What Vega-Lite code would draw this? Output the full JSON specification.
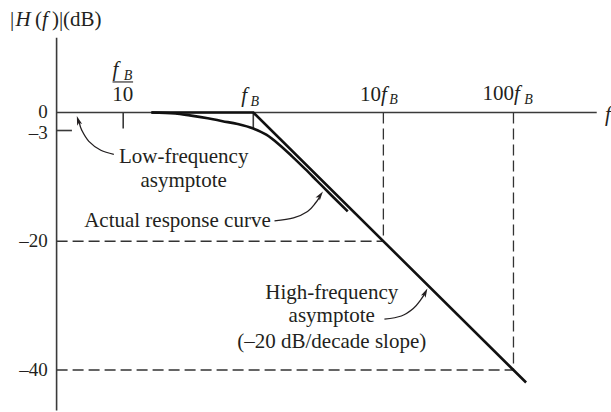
{
  "$schema": "https://vega.github.io/schema/vega-lite/v6.json",
  "width": 611,
  "height": 412,
  "autosize": {"type": "fit", "contains": "padding"},
  "padding": 0,
  "background": "white",
  "config": {"view": {"stroke": null}},
  "datasets": {
    "solid": [
      {"x": -1.512, "x2": -1.512, "y": 11.59, "y2": -46.3},
      {"x": -1.512, "x2": 2.64, "y": 0, "y2": 0},
      {"x": -1, "x2": -1, "y": 0, "y2": -2.47},
      {"x": -1.512, "x2": -1.394, "y": -2.8, "y2": -2.8},
      {"x": 0, "x2": 0, "y": 0, "y2": -2.5}
    ],
    "bar": [
      {"x": -1.082, "x2": -0.924, "y": 4.74, "y2": 4.74}
    ],
    "dashed": [
      {"x": 1, "x2": 1, "y": 0, "y2": -20},
      {"x": 2, "x2": 2, "y": 0, "y2": -40},
      {"x": -1.512, "x2": 1, "y": -20, "y2": -20},
      {"x": -1.512, "x2": 2, "y": -40, "y2": -40}
    ],
    "asymptote": [
      {"i": 0, "x": -0.783, "y": 0},
      {"i": 1, "x": 0, "y": 0},
      {"i": 2, "x": 2.097, "y": -41.94}
    ],
    "curve": [
      {"x": -0.783, "y": 0},
      {"x": -0.6, "y": -0.15},
      {"x": -0.489, "y": -0.45},
      {"x": -0.35, "y": -0.9},
      {"x": -0.236, "y": -1.35},
      {"x": -0.12, "y": -1.8},
      {"x": 0.0, "y": -2.5},
      {"x": 0.1, "y": -3.45},
      {"x": 0.2, "y": -5.0},
      {"x": 0.3, "y": -6.85},
      {"x": 0.4, "y": -8.8},
      {"x": 0.484, "y": -10.5},
      {"x": 0.6, "y": -12.85},
      {"x": 0.726, "y": -15.35}
    ],
    "arrows": [
      {"g": "low", "i": 0, "x": -1.072, "y": -6.49},
      {"g": "low", "i": 1, "x": -1.172, "y": -5.87},
      {"g": "low", "i": 2, "x": -1.264, "y": -4.48},
      {"g": "low", "i": 3, "x": -1.318, "y": -2.78},
      {"g": "low", "i": 4, "x": -1.338, "y": -1.55},
      {"g": "act", "i": 0, "x": 0.163, "y": -16.85},
      {"g": "act", "i": 1, "x": 0.309, "y": -16.38},
      {"g": "act", "i": 2, "x": 0.417, "y": -15.38},
      {"g": "act", "i": 3, "x": 0.478, "y": -14.06},
      {"g": "act", "i": 4, "x": 0.512, "y": -13.06},
      {"g": "high", "i": 0, "x": 1.008, "y": -32.1},
      {"g": "high", "i": 1, "x": 1.138, "y": -31.61},
      {"g": "high", "i": 2, "x": 1.23, "y": -30.45},
      {"g": "high", "i": 3, "x": 1.288, "y": -29.06},
      {"g": "high", "i": 4, "x": 1.318, "y": -28.13}
    ],
    "head1": [{"x": -1.344, "y": -1.34}],
    "head2": [{"x": 0.512, "y": -12.95}],
    "head3": [{"x": 1.32, "y": -28.05}],
    "yLabels": [
      {"t": "0", "x": -1.579, "y": -0.85},
      {"t": "–3", "x": -1.579, "y": -4.05},
      {"t": "–20", "x": -1.579, "y": -20.91},
      {"t": "–40", "x": -1.579, "y": -41.0}
    ],
    "upR": [
      {"t": "10", "x": 0.982, "y": 1.75},
      {"t": "100", "x": 2.005, "y": 2.01}
    ],
    "upC": [
      {"t": "10", "x": -1.003, "y": 1.75},
      {"t": "Low-frequency", "x": -0.535, "y": -7.88},
      {"t": "asymptote", "x": -0.535, "y": -11.59},
      {"t": "Actual response curve", "x": -0.583, "y": -17.77},
      {"t": "High-frequency", "x": 0.603, "y": -28.9},
      {"t": "asymptote", "x": 0.603, "y": -32.61},
      {"t": "(–20 dB/decade slope)", "x": 0.603, "y": -36.63}
    ],
    "upL": [
      {"t": "|", "x": -1.87, "y": 13.45},
      {"t": "(", "x": -1.678, "y": 13.45},
      {"t": ")|(dB)", "x": -1.548, "y": 13.45}
    ],
    "itL": [
      {"t": "H", "x": -1.828, "y": 13.45},
      {"t": "f", "x": -1.625, "y": 13.45},
      {"t": "f", "x": -1.082, "y": 5.72},
      {"t": "f", "x": -0.092, "y": 1.7},
      {"t": "f", "x": 0.982, "y": 1.75},
      {"t": "f", "x": 2.005, "y": 2.01},
      {"t": "f", "x": 2.704, "y": -1.39}
    ],
    "subL": [
      {"t": "B", "x": -0.995, "y": 5.1},
      {"t": "B", "x": -0.021, "y": 1.08},
      {"t": "B", "x": 1.046, "y": 1.24},
      {"t": "B", "x": 2.082, "y": 1.39}
    ]
  },
  "encoding": {
    "x": {"field": "x", "type": "quantitative", "scale": {"domain": [-1.947, 2.742], "nice": false, "zero": false}, "axis": null},
    "y": {"field": "y", "type": "quantitative", "scale": {"domain": [-46.21, 17.47], "nice": false, "zero": false}, "axis": null}
  },
  "layer": [
    {
      "data": {"name": "dashed"},
      "mark": {"type": "rule", "color": "#333333", "strokeWidth": 1.3, "strokeDash": [11, 5]},
      "encoding": {"x2": {"field": "x2"}, "y2": {"field": "y2"}}
    },
    {
      "data": {"name": "solid"},
      "mark": {"type": "rule", "color": "#3a3a3a", "strokeWidth": 1.6},
      "encoding": {"x2": {"field": "x2"}, "y2": {"field": "y2"}}
    },
    {
      "data": {"name": "bar"},
      "mark": {"type": "rule", "color": "#231f20", "strokeWidth": 1.1},
      "encoding": {"x2": {"field": "x2"}, "y2": {"field": "y2"}}
    },
    {
      "data": {"name": "asymptote"},
      "mark": {"type": "line", "color": "#111111", "strokeWidth": 2.6},
      "encoding": {"order": {"field": "i", "type": "quantitative"}}
    },
    {
      "data": {"name": "curve"},
      "mark": {"type": "line", "color": "#111111", "strokeWidth": 2.6, "interpolate": "monotone"},
      "encoding": {}
    },
    {
      "data": {"name": "arrows"},
      "mark": {"type": "line", "color": "#231f20", "strokeWidth": 1.3, "interpolate": "cardinal"},
      "encoding": {"detail": {"field": "g"}, "order": {"field": "i", "type": "quantitative"}}
    },
    {
      "data": {"name": "head1"},
      "mark": {"type": "point", "shape": "M0,-1L0.5,0.75L0,0.35L-0.5,0.75Z", "filled": true, "color": "#231f20", "opacity": 1, "size": 110, "angle": 342}
    },
    {
      "data": {"name": "head2"},
      "mark": {"type": "point", "shape": "M0,-1L0.5,0.75L0,0.35L-0.5,0.75Z", "filled": true, "color": "#231f20", "opacity": 1, "size": 110, "angle": 35}
    },
    {
      "data": {"name": "head3"},
      "mark": {"type": "point", "shape": "M0,-1L0.5,0.75L0,0.35L-0.5,0.75Z", "filled": true, "color": "#231f20", "opacity": 1, "size": 110, "angle": 27}
    },
    {
      "data": {"name": "yLabels"},
      "mark": {"type": "text", "font": "Liberation Serif", "fontSize": 19, "align": "right", "baseline": "alphabetic", "color": "#231f20"},
      "encoding": {"text": {"field": "t"}}
    },
    {
      "data": {"name": "upR"},
      "mark": {"type": "text", "font": "Liberation Serif", "fontSize": 21, "align": "right", "baseline": "alphabetic", "color": "#231f20"},
      "encoding": {"text": {"field": "t"}}
    },
    {
      "data": {"name": "upC"},
      "mark": {"type": "text", "font": "Liberation Serif", "fontSize": 21, "align": "center", "baseline": "alphabetic", "color": "#231f20"},
      "encoding": {"text": {"field": "t"}}
    },
    {
      "data": {"name": "upL"},
      "mark": {"type": "text", "font": "Liberation Serif", "fontSize": 21, "align": "left", "baseline": "alphabetic", "color": "#231f20"},
      "encoding": {"text": {"field": "t"}}
    },
    {
      "data": {"name": "itL"},
      "mark": {"type": "text", "font": "Liberation Serif", "fontSize": 21, "fontStyle": "italic", "align": "left", "baseline": "alphabetic", "color": "#231f20"},
      "encoding": {"text": {"field": "t"}}
    },
    {
      "data": {"name": "subL"},
      "mark": {"type": "text", "font": "Liberation Serif", "fontSize": 14, "fontStyle": "italic", "align": "left", "baseline": "alphabetic", "color": "#231f20"},
      "encoding": {"text": {"field": "t"}}
    }
  ]
}
